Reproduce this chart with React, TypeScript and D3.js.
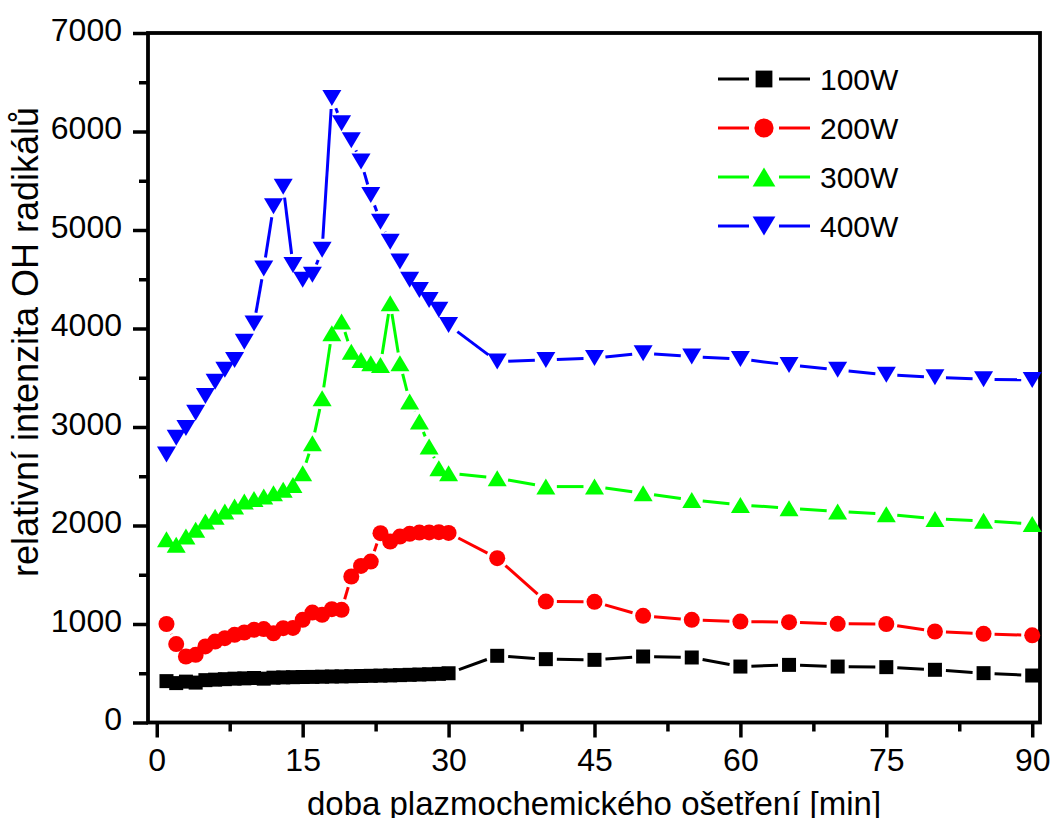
import React, { useEffect, useRef } from 'react';
import * as d3 from 'd3';

// doba ošetření [min]
const minutes = [1, 2, 3, 4, 5, 6, 7, 8, 9, 10, 11, 12, 13, 14, 15, 16, 17, 18, 19, 20,
  21, 22, 23, 24, 25, 26, 27, 28, 29, 30, 35, 40, 45, 50, 55, 60, 65, 70, 75, 80, 85, 90];

const p100 = [420, 400, 415, 405, 430, 435, 440, 445, 448, 452, 445, 455, 458, 460, 462, 463, 465, 467, 468, 470,
  472, 474, 476, 478, 481, 484, 487, 490, 494, 500, 677, 643, 636, 670, 660, 568, 585, 568, 562, 535, 501, 477];
const p200 = [1000, 796, 670, 687, 772, 822, 856, 890, 914, 941, 948, 905, 958, 960, 1042, 1116, 1093, 1151, 1144, 1482,
  1590, 1634, 1922, 1837, 1888, 1915, 1928, 1930, 1932, 1925, 1668, 1228, 1225, 1083, 1042, 1025, 1019, 1002, 1000, 924, 900, 885];
const p300 = [1860, 1805, 1888, 1956, 2040, 2090, 2142, 2192, 2243, 2268, 2294, 2328, 2362, 2412, 2531, 2836, 3292, 3952, 4070, 3765,
  3681, 3647, 3630, 4257, 3647, 3258, 3055, 2801, 2582, 2531, 2480, 2395, 2395, 2328, 2260, 2209, 2176, 2142, 2115, 2067, 2047, 2015];
const p400 = [2720, 2890, 2990, 3145, 3315, 3460, 3580, 3680, 3865, 4050, 4610, 5240, 5440, 4645, 4495, 4545, 4800, 6340, 6085, 5910,
  5695, 5355, 5085, 4880, 4680, 4495, 4390, 4290, 4190, 4035, 3665, 3680, 3700, 3750, 3715, 3690, 3630, 3580, 3530, 3505, 3485, 3478];

const seriesNames = ['100W', '200W', '300W', '400W'];
const seriesColors = ['#000000', '#ff0000', '#00ff00', '#0000ff'];
const seriesShapes = ['square', 'circle', 'up', 'down'];
const seriesValues = [p100, p200, p300, p400];

const xTicks = [0, 15, 30, 45, 60, 75, 90];
const xMinor = [7.5, 22.5, 37.5, 52.5, 67.5, 82.5];
const yTicks = [0, 1000, 2000, 3000, 4000, 5000, 6000, 7000];
const yMinor = [500, 1500, 2500, 3500, 4500, 5500, 6500];

const FONT = '"Liberation Sans", Arial, sans-serif';

const markerPath = (shape: string, k: number) => {
  if (shape === 'square') {
    const s = 7 * k;
    return `M${-s},${-s}H${s}V${s}H${-s}Z`;
  }
  if (shape === 'circle') {
    const r = 8 * k;
    return `M${-r},0A${r},${r} 0 1,0 ${r},0A${r},${r} 0 1,0 ${-r},0Z`;
  }
  const w = 9.5 * k, h = 8 * k;
  if (shape === 'up') return `M0,${-h}L${w},${h}L${-w},${h}Z`;
  return `M0,${h}L${w},${-h}L${-w},${-h}Z`;
};

const App = () => {
  const svgRef = useRef<SVGSVGElement>(null);

  useEffect(() => {
    const width = 1051;
    const height = 818;
    const left = 148, right = 1040, top = 33, bottom = 722.5;

    const svg = d3.select(svgRef.current)
      .attr('width', width)
      .attr('height', height);
    svg.selectAll('*').remove();

    const x = d3.scaleLinear().domain([-0.9, 90.8]).range([left, right]);
    const y = d3.scaleLinear().domain([0, 7000]).range([bottom, top]);

    // osa x
    const gx = svg.append('g').attr('transform', `translate(0,${bottom})`);
    gx.call(d3.axisBottom(x).tickValues(xTicks).tickSize(15).tickSizeOuter(0).tickFormat(d3.format('d')));
    gx.select('.domain').remove();
    gx.selectAll('line').attr('stroke', '#000').attr('stroke-width', 3.5);
    gx.selectAll('text')
      .attr('y', 48.5).attr('dy', null)
      .attr('font-family', FONT).attr('font-size', 32).attr('fill', '#000');
    const gxm = svg.append('g').attr('transform', `translate(0,${bottom})`);
    gxm.call(d3.axisBottom(x).tickValues(xMinor).tickSize(9).tickSizeOuter(0).tickFormat(() => ''));
    gxm.select('.domain').remove();
    gxm.selectAll('line').attr('stroke', '#000').attr('stroke-width', 3.5);

    // osa y
    const gy = svg.append('g').attr('transform', `translate(${left},0)`);
    gy.call(d3.axisLeft(y).tickValues(yTicks).tickSize(15).tickSizeOuter(0).tickFormat(d3.format('d')));
    gy.select('.domain').remove();
    gy.selectAll('line').attr('stroke', '#000').attr('stroke-width', 3.5);
    gy.selectAll('text')
      .attr('x', -26).attr('dy', 7)
      .attr('font-family', FONT).attr('font-size', 32).attr('fill', '#000');
    const gym = svg.append('g').attr('transform', `translate(${left},0)`);
    gym.call(d3.axisLeft(y).tickValues(yMinor).tickSize(9).tickSizeOuter(0).tickFormat(() => ''));
    gym.select('.domain').remove();
    gym.selectAll('line').attr('stroke', '#000').attr('stroke-width', 3.5);

    // rámeček
    svg.append('rect')
      .attr('x', left).attr('y', top)
      .attr('width', right - left).attr('height', bottom - top)
      .attr('fill', 'none').attr('stroke', '#000').attr('stroke-width', 3.8);

    // popisky os
    svg.append('text')
      .attr('x', (left + right) / 2).attr('y', 815)
      .attr('text-anchor', 'middle')
      .attr('font-family', FONT).attr('font-size', 33)
      .text('doba plazmochemického ošetření [min]');
    svg.append('text')
      .attr('transform', `translate(38,342) rotate(-90)`)
      .attr('text-anchor', 'middle')
      .attr('font-family', FONT).attr('font-size', 36)
      .text('relativní intenzita OH radikálů');

    // data
    const gap = 11;
    seriesValues.forEach((vals, si) => {
      const g = svg.append('g');
      const pts = vals.map((v, i) => [x(minutes[i]), y(v)]);
      const segs: number[][] = [];
      for (let i = 0; i < pts.length - 1; i++) {
        const [x1, y1] = pts[i];
        const [x2, y2] = pts[i + 1];
        const len = Math.hypot(x2 - x1, y2 - y1);
        if (len <= 2 * gap) continue;
        const ux = (x2 - x1) / len, uy = (y2 - y1) / len;
        segs.push([x1 + ux * gap, y1 + uy * gap, x2 - ux * gap, y2 - uy * gap]);
      }
      g.selectAll('line')
        .data(segs)
        .join('line')
        .attr('x1', d => d[0]).attr('y1', d => d[1])
        .attr('x2', d => d[2]).attr('y2', d => d[3])
        .attr('stroke', seriesColors[si])
        .attr('stroke-width', 3);
      g.selectAll('path')
        .data(pts)
        .join('path')
        .attr('transform', d => `translate(${d[0]},${d[1]})`)
        .attr('d', markerPath(seriesShapes[si], 1))
        .attr('fill', seriesColors[si]);
    });

    // legenda
    const legend = svg.append('g');
    seriesNames.forEach((name, si) => {
      const ly = 79 + si * 49;
      const row = legend.append('g').attr('transform', `translate(0,${ly})`);
      row.append('line').attr('x1', 718).attr('x2', 749).attr('y1', 0).attr('y2', 0)
        .attr('stroke', seriesColors[si]).attr('stroke-width', 3);
      row.append('line').attr('x1', 779).attr('x2', 810).attr('y1', 0).attr('y2', 0)
        .attr('stroke', seriesColors[si]).attr('stroke-width', 3);
      row.append('path')
        .attr('transform', 'translate(764,0)')
        .attr('d', markerPath(seriesShapes[si], 1.2))
        .attr('fill', seriesColors[si]);
      row.append('text')
        .attr('x', 820).attr('y', 11)
        .attr('font-family', FONT).attr('font-size', 30)
        .text(name);
    });
  }, []);

  return <svg ref={svgRef} style={{ position: 'absolute', left: 0, top: 0 }}></svg>;
};

export default App;
